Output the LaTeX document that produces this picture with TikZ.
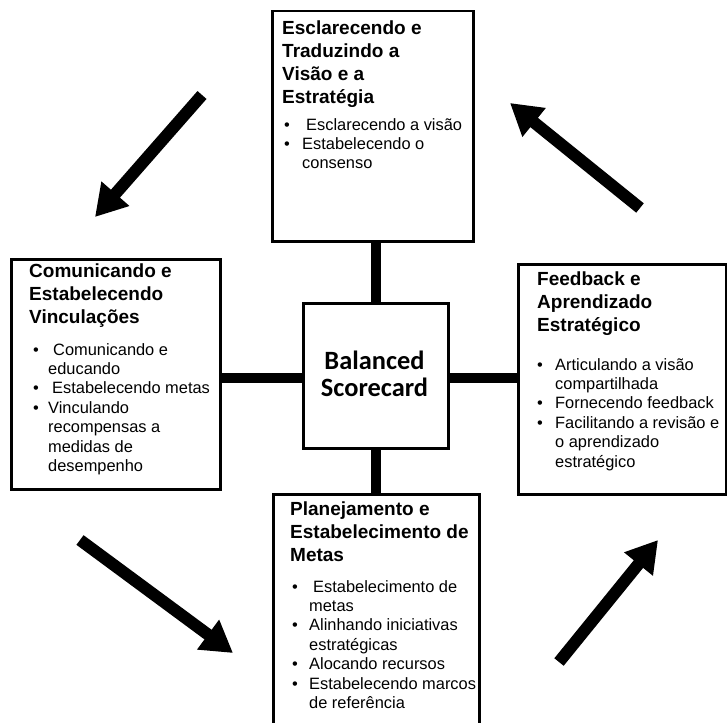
\documentclass[tikz,border=0pt]{standalone}
\usepackage{fontspec}
\setmainfont{Liberation Sans}
\newfontfamily\calibrifont{Carlito}
\usetikzlibrary{arrows.meta}
\newcommand{\bl}[1]{\makebox[#1][l]{\textbullet}}
\begin{document}
\begin{tikzpicture}[x=1pt,y=-1pt,
  box/.style={draw=black,line width=2.5pt,fill=white,rectangle,inner sep=0pt,anchor=north west},
  ttl/.style={anchor=north west,inner sep=0pt,align=left,font=\fontsize{19}{23}\selectfont\bfseries},
  itm/.style={anchor=north west,inner sep=0pt,align=left,font=\fontsize{16.4}{19.4}\selectfont},
  link/.style={line width=10pt,black},
  bigarrow/.style={line width=12pt,black,-{Triangle[width=35pt,length=31pt]}}
]
\useasboundingbox (0,0) rectangle (727,722);
\clip (0,0) rectangle (727,722);

% boxes
\node[box,minimum width=201pt,minimum height=230pt] (top) at (271,10) {};
\node[box,minimum width=209pt,minimum height=230pt] (left) at (10,258) {};
\node[box,minimum width=145pt,minimum height=145pt] (center) at (302,302) {};
\node[box,minimum width=208pt,minimum height=230pt] (right) at (517,263) {};
\node[box,minimum width=206pt,minimum height=270pt] (bottom) at (272,493) {};

% connectors
\draw[link] (center.north) -- (center.north |- top.south);
\draw[link] (center.south) -- (center.south |- bottom.north);
\draw[link] ([yshift=-2.5pt]center.west) -- ([yshift=-2.5pt]center.west -| left.east);
\draw[link] ([yshift=-2.5pt]center.east) -- ([yshift=-2.5pt]center.east -| right.west);

% centre text
\node[inner sep=0pt,align=center,font=\fontsize{26.4}{27.3}\selectfont\calibrifont\bfseries] (bsc) at (374.5,374) {Balanced\\Scorecard};

% top box text
\node[ttl] (toptitle) at (282,18) {\strut Esclarecendo e\\Traduzindo a\\Visão e a\\Estratégia};
\node[itm] (topitems) at (284,116.4) {\strut\bl{18pt}\hspace{4pt}Esclarecendo a visão\\
  \bl{18pt}Estabelecendo o\\
  \hspace*{18pt}consenso};

% left box text
\node[ttl] (lefttitle) at (29,261) {\strut Comunicando e\\Estabelecendo\\Vinculações};
\node[itm] (leftitems) at (33,341.4) {\strut\bl{15pt}\hspace{5pt}Comunicando e\\
  \hspace*{15pt}educando\\
  \bl{15pt}\hspace{4pt}Estabelecendo metas\\
  \bl{15pt}Vinculando\\
  \hspace*{15pt}recompensas a\\
  \hspace*{15pt}medidas de\\
  \hspace*{15pt}desempenho};

% right box text
\node[ttl] (righttitle) at (537,269) {\strut Feedback e\\Aprendizado\\Estratégico};
\node[itm] (rightitems) at (537,356.4) {\strut\bl{18pt}Articulando a visão\\
  \hspace*{18pt}compartilhada\\
  \bl{18pt}Fornecendo feedback\\
  \bl{18pt}Facilitando a revisão e\\
  \hspace*{18pt}o aprendizado\\
  \hspace*{18pt}estratégico};

% bottom box text
\node[ttl] (bottomtitle) at (290,499) {\strut Planejamento e\\Estabelecimento de\\Metas};
\node[itm] (bottomitems) at (292,578.4) {\strut\bl{17pt}\hspace{4pt}Estabelecimento de\\
  \hspace*{17pt}metas\\
  \bl{17pt}Alinhando iniciativas\\
  \hspace*{17pt}estratégicas\\
  \bl{17pt}Alocando recursos\\
  \bl{17pt}Estabelecendo marcos\\
  \hspace*{17pt}de referência};

% cycle arrows
\coordinate (a1s) at (202,95);  \coordinate (a1e) at (95,217);
\coordinate (a2s) at (640,208); \coordinate (a2e) at (510,103);
\coordinate (a3s) at (80,540);  \coordinate (a3e) at (233,653);
\coordinate (a4s) at (559,662); \coordinate (a4e) at (658,540);
\draw[bigarrow] (a1s) -- (a1e);
\draw[bigarrow] (a2s) -- (a2e);
\draw[bigarrow] (a3s) -- (a3e);
\draw[bigarrow] (a4s) -- (a4e);
\end{tikzpicture}
\end{document}
